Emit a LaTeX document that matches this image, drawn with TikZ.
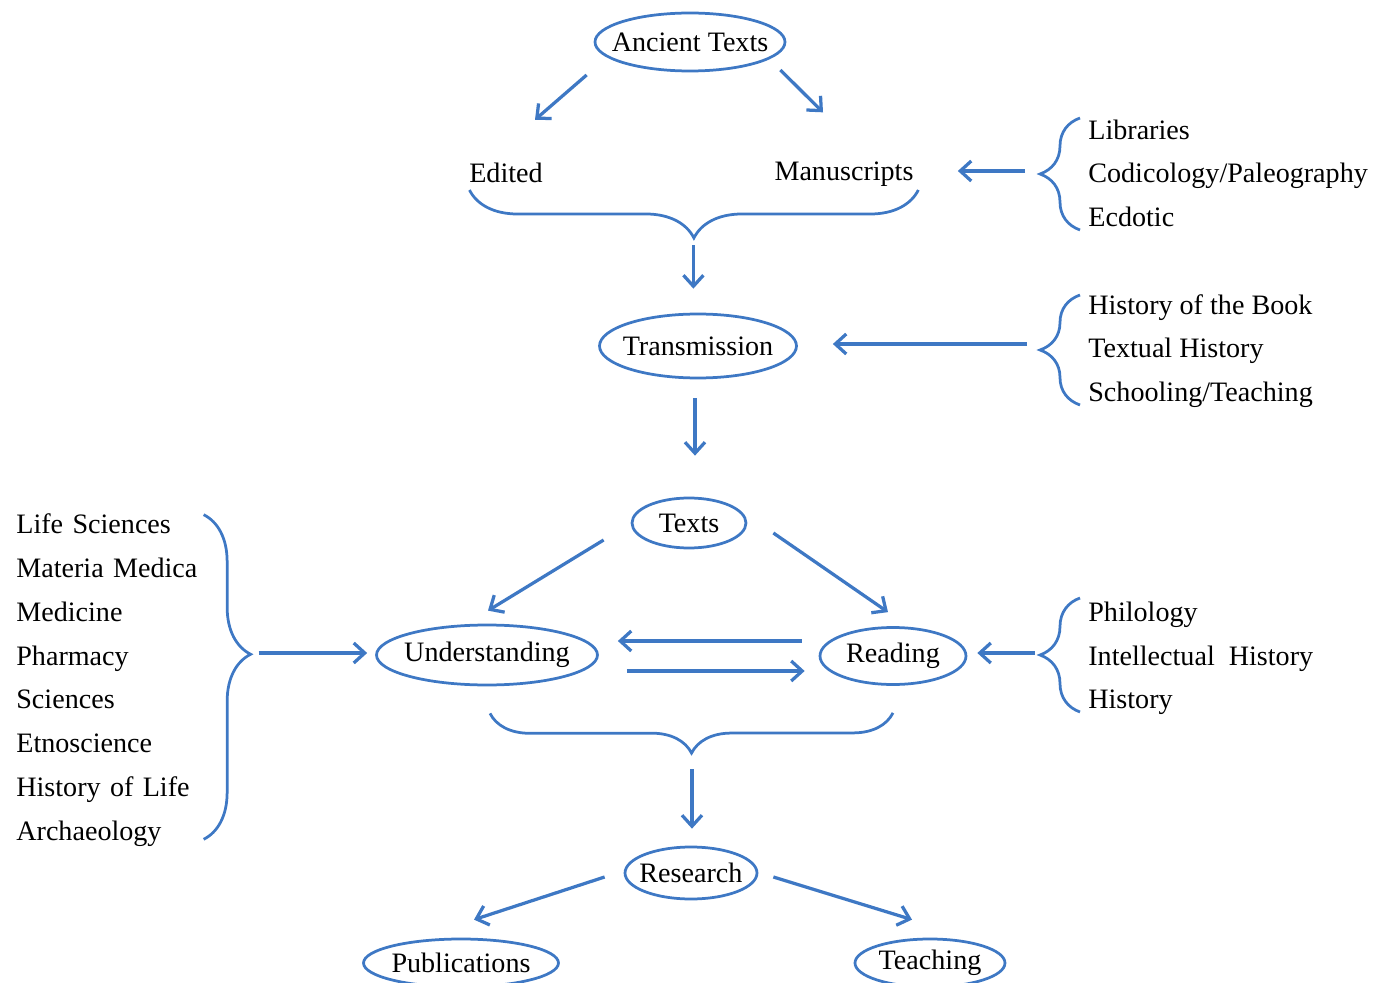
\documentclass[tikz,border=0pt]{standalone}
\usepackage{fontspec}
\setmainfont{Liberation Serif}
\usepackage{tikz}
\usetikzlibrary{matrix,arrows.meta,calc,decorations.pathreplacing,shapes.geometric}

\definecolor{flowblue}{RGB}{62,120,196}
\newcommand{\snug}[1]{\makebox[0pt]{#1}}

\tikzset{
  topic/.style={ellipse, draw=flowblue, line width=0.055cm, inner sep=0pt},
  word/.style={inner sep=0pt},
  arr/.style={flowblue, line width=0.065cm, -{Straight Barb[length=0.22cm,width=0.4cm]}},
  curly/.style={draw=flowblue, line width=0.055cm, decorate, decoration={brace,amplitude=#1}},
  fieldlist/.style={matrix of nodes, inner sep=0pt, row sep=0.36cm,
    nodes={inner sep=0pt, anchor=west, text height=0.4cm, text depth=0.12cm}}
}

\begin{document}
\begin{tikzpicture}[x=0.02cm, y=-0.02cm, font=\fontsize{16}{19}\selectfont]
  \useasboundingbox (0,0) rectangle (1377,983);

  % main column
  \node[topic, minimum width=3.8cm, minimum height=1.16cm] (ancient) at (690,42) {\snug{Ancient Texts}};
  \node[word] (edited) at (506,173) {Edited};
  \node[word] (manuscripts) at (844,174) {Manuscripts};
  \node[topic, minimum width=3.94cm, minimum height=1.28cm] (transmission) at (698,346) {\snug{Transmission}};
  \node[topic, minimum width=2.28cm, minimum height=1.0cm] (texts) at (689,523) {\snug{Texts}};
  \node[topic, minimum width=4.42cm, minimum height=1.2cm] (understanding) at (487,655) {\snug{Understanding}};
  \node[topic, minimum width=2.92cm, minimum height=1.14cm] (reading) at (893,656) {\snug{Reading}};
  \node[topic, minimum width=2.64cm, minimum height=1.04cm] (research) at (691,873) {\snug{Research}};
  \node[topic, minimum width=3.9cm, minimum height=0.96cm] (publications) at (461,963) {\snug{Publications}};
  \node[topic, minimum width=3.0cm, minimum height=0.96cm] (teaching) at (930,963) {\snug{Teaching}};

  % side lists
  \matrix (libs) [fieldlist, anchor=west] at (1088,176)
  {
    Libraries \\
    Codicology/Paleography \\
    Ecdotic \\
  };
  \matrix (hist) [fieldlist, anchor=west] at (1088,351)
  {
    History of the Book \\
    Textual History \\
    Schooling/Teaching \\
  };
  \matrix (phil) [fieldlist, anchor=west] at (1088,658)
  {
    Philology \\
    Intellectual\ \ History \\
    History \\
  };
  \matrix (sci) [fieldlist, nodes={text width=4cm}, anchor=west] at (16,680)
  {
    Life Sciences \\
    Materia Medica \\
    Medicine \\
    Pharmacy \\
    Sciences \\
    Etnoscience \\
    History of Life \\
    Archaeology \\
  };

  % braces
  \draw[curly=0.96cm] ([shift={(4.5,16)}]manuscripts.east) -- ([shift={(0.5,17)}]edited.west);
  \draw[curly=0.8cm] ([shift={(-8,54)}]libs.west) -- ([shift={(-8,-58)}]libs.west);
  \draw[curly=0.8cm] ([shift={(-8,54)}]hist.west) -- ([shift={(-8,-56)}]hist.west);
  \draw[curly=0.8cm] ([shift={(-8,54)}]phil.west) -- ([shift={(-8,-60)}]phil.west);
  \draw[curly=0.94cm, decoration={aspect=0.43}] ([shift={(-13,2)}]sci.north east) -- ([shift={(-13,-8)}]sci.south east);
  \draw[curly=0.8cm] ([shift={(0,27)}]reading.south) -- ([shift={(3,27)}]understanding.south);

  \coordinate (emtip) at ($(edited.west)!.5!(manuscripts.east) + (2,65)$);
  \coordinate (urtip) at ($(understanding.south)!.5!(reading.south) + (2,67)$);

  % arrows
  \path[arr]
  ([shift={(-7,33)}]ancient.west) edge ([shift={(29,-43)}]edited.north)
  ([shift={(-6,28)}]ancient.east) edge ([shift={(-21,-49)}]manuscripts.north)
  ([shift={(-63,-5)}]libs.west) edge ([shift={(44,-3)}]manuscripts.east)
  (emtip) edge[shorten <=0.14cm, shorten >=0.48cm] (emtip |- transmission.north)
  ([shift={(-61,-7)}]hist.west) edge ([shift={(35,-2)}]transmission.east)
  ([shift={(-3,19)}]transmission.south) edge ([shift={(6,-41)}]texts.north)
  ([shift={(-27,17)}]texts.west) edge ([shift={(1,-13)}]understanding.north)
  ([shift={(26,10)}]texts.east) edge ([shift={(-5,-14)}]reading.north)
  ([shift={(-17,-15)}]reading.west) edge ([shift={(19,-14)}]understanding.east)
  ([shift={(28,16)}]understanding.east) edge ([shift={(-14,15)}]reading.west)
  ([shift={(42,-27)}]sci.east) edge ([shift={(-8,-2)}]understanding.west)
  ([shift={(-53,-5)}]phil.west) edge ([shift={(10,-3)}]reading.east)
  (urtip) edge[shorten <=0.32cm, shorten >=0.34cm] (urtip |- research.north)
  ([shift={(-19,4)}]research.west) edge ([shift={(13,-18)}]publications.north)
  ([shift={(15,4)}]research.east) edge ([shift={(-18,-18)}]teaching.north);
\end{tikzpicture}
\end{document}
